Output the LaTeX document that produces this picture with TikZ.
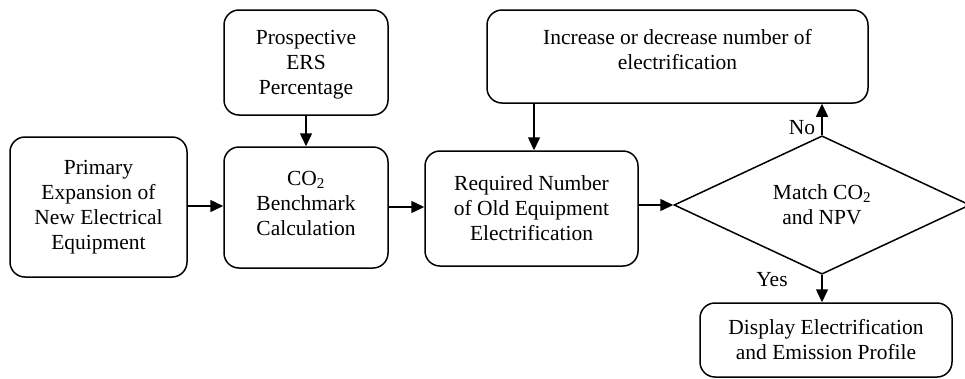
\documentclass[tikz,border=0pt]{standalone}
\usepackage{fontspec}
\setmainfont{Liberation Serif}
\usetikzlibrary{shapes.geometric,arrows.meta}
\begin{document}
\begin{tikzpicture}[x=1pt,y=-1pt,
  every node/.style={font=\fontsize{21.5}{25}\selectfont},
  box/.style={draw,line width=1.5pt,rounded corners=15pt,inner sep=0pt,align=center},
  txt/.style={inner sep=0pt,align=center},
  dec/.style={draw,line width=1.5pt,shape=diamond,inner sep=0pt,align=center},
  arr/.style={line width=1.5pt,-{Triangle[length=13pt,width=12pt]}},
  lbl/.style={inner sep=0pt}]
\useasboundingbox (0,0) rectangle (965,378);
\node[box,minimum width=177pt,minimum height=140pt] (prim) at (98.5,207)
  {Primary\\Expansion of\\New Electrical\\Equipment};
\node[box,minimum width=164pt,minimum height=105pt] (pros) at (306,62.5) {};
\node[txt] (prostxt) at (306,65) {Prospective\\ERS\\Percentage};
\node[box,minimum width=164pt,minimum height=121pt] (bench) at (306,207.5) {};
\node[txt] (benchtxt) at (306,203) {CO\textsubscript{2}\\Benchmark\\Calculation};
\node[box,minimum width=213pt,minimum height=115pt] (req) at (531.5,208.5)
  {Required Number\\of Old Equipment\\Electrification};
\node[box,minimum width=381pt,minimum height=93pt] (inc) at (677.5,56.5) {};
\node[txt] (inctxt) at (677.5,50) {Increase or decrease number of\\electrification};
\node[dec,minimum width=296pt,minimum height=126pt] (match) at (822,205)
  {Match CO\textsubscript{2}\\and NPV};
\node[box,minimum width=252pt,minimum height=74pt] (disp) at (826,340)
  {Display Electrification\\and Emission Profile};
\coordinate (incin) at (534,103);
\draw[arr] ([yshift=1pt]prim.east) -- ([yshift=1pt]prim.east -| bench.west);
\draw[arr] (pros.south) -- (bench.north);
\draw[arr] ([yshift=0.5pt]bench.east) -- ([yshift=0.5pt]bench.east -| req.west);
\draw[arr] (incin) -- (incin |- req.north);
\draw[arr] (req.east |- match.west) -- (match.west);
\draw[arr] (match.north) -- (match.north |- inc.south);
\draw[arr] (match.south) -- (match.south |- disp.north);
\node[lbl] (no) at (802,128) {No};
\node[lbl] (yes) at (772,280) {Yes};
\end{tikzpicture}
\end{document}
